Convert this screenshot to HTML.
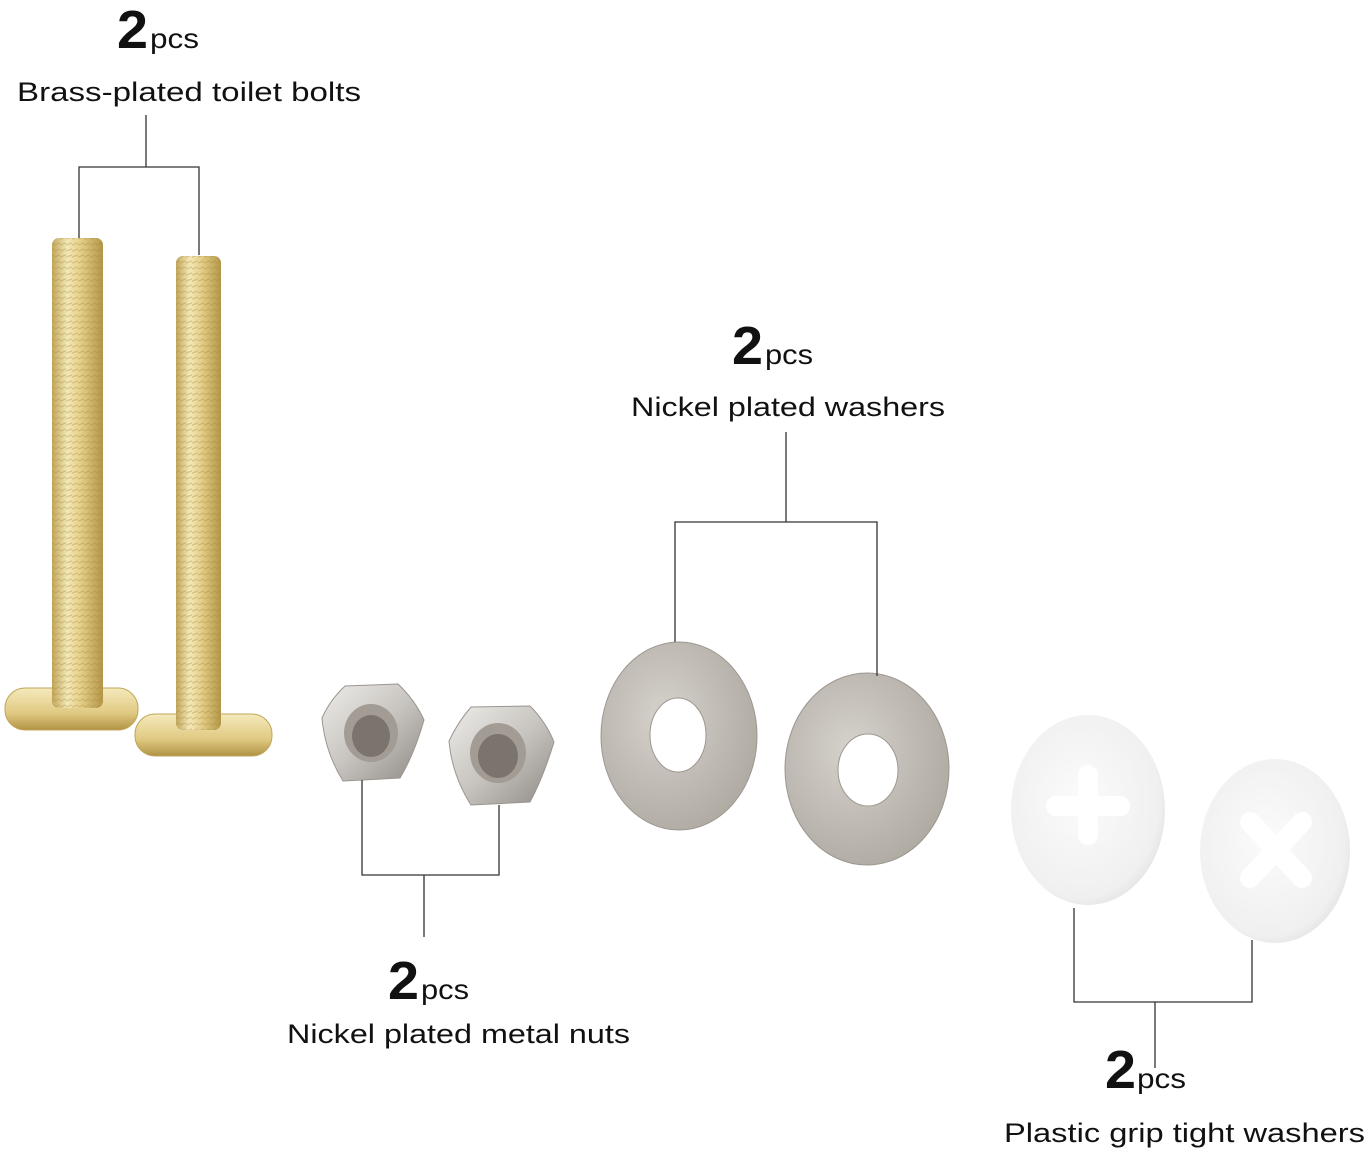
<!DOCTYPE html>
<html><head><meta charset="utf-8"><style>
html,body{margin:0;padding:0;background:#fff;}
svg{display:block;}
text{font-family:"Liberation Sans","DejaVu Sans",sans-serif;fill:#111;}
</style></head><body>
<svg width="1367" height="1151" viewBox="0 0 1367 1151" xmlns="http://www.w3.org/2000/svg">
<defs>
<linearGradient id="gold" x1="0" x2="1" y1="0" y2="0">
<stop offset="0" stop-color="#c2a55a"/><stop offset="0.3" stop-color="#f3e8b6"/><stop offset="0.55" stop-color="#e6d08a"/><stop offset="1" stop-color="#b39647"/>
</linearGradient>
<linearGradient id="goldh" x1="0" x2="0" y1="0" y2="1">
<stop offset="0" stop-color="#f5eabc"/><stop offset="0.6" stop-color="#e0c981"/><stop offset="1" stop-color="#b09245"/>
</linearGradient>
<pattern id="thread" width="6" height="6" patternUnits="userSpaceOnUse">
<line x1="0" y1="5" x2="6" y2="3" stroke="#a08540" stroke-opacity="0.35" stroke-width="1.3"/>
</pattern>
<radialGradient id="nick" cx="0.4" cy="0.4" r="0.7">
<stop offset="0" stop-color="#d6d2cc"/><stop offset="1" stop-color="#aca79f"/>
</radialGradient>
<linearGradient id="nut" x1="0" x2="1" y1="0" y2="1">
<stop offset="0" stop-color="#eeece9"/><stop offset="0.5" stop-color="#c8c5c0"/><stop offset="1" stop-color="#8e8983"/>
</linearGradient>
<radialGradient id="plas" cx="0.45" cy="0.45" r="0.6">
<stop offset="0" stop-color="#fbfbfb"/><stop offset="0.85" stop-color="#f0f0f0"/><stop offset="1" stop-color="#e2e2e2"/>
</radialGradient>
</defs>

<!-- bolts -->
<rect x="5" y="688" width="133" height="42" rx="20" fill="url(#goldh)" stroke="#c0a559"/>
<rect x="52" y="238" width="51" height="470" rx="7" fill="url(#gold)"/>
<rect x="52" y="238" width="51" height="470" rx="7" fill="url(#thread)"/>
<rect x="135" y="714" width="137" height="42" rx="20" fill="url(#goldh)" stroke="#c0a559"/>
<rect x="176" y="256" width="45" height="474" rx="7" fill="url(#gold)"/>
<rect x="176" y="256" width="45" height="474" rx="7" fill="url(#thread)"/>

<!-- nuts -->
<path d="M322,718 Q330,700 345,686 L398,684 Q415,700 424,720 Q414,755 400,778 L343,781 Q325,752 322,718 Z" fill="url(#nut)" stroke="#9a958f"/>
<ellipse cx="371" cy="733" rx="27" ry="29" fill="#a29c95"/>
<ellipse cx="371" cy="736" rx="19" ry="21" fill="#7a746d"/>
<path d="M449,741 Q458,722 471,707 L530,706 Q546,722 554,742 Q543,778 530,802 L471,805 Q452,775 449,741 Z" fill="url(#nut)" stroke="#9a958f"/>
<ellipse cx="498" cy="753" rx="28" ry="30" fill="#a29c95"/>
<ellipse cx="498" cy="756" rx="20" ry="22" fill="#7a746d"/>

<!-- washers -->
<ellipse cx="679" cy="736" rx="78" ry="94" fill="url(#nick)" stroke="#9d978f"/>
<ellipse cx="678" cy="735" rx="28" ry="37" fill="#fff" stroke="#9d978f"/>
<ellipse cx="867" cy="769" rx="82" ry="96" fill="url(#nick)" stroke="#9d978f"/>
<ellipse cx="868" cy="770" rx="30" ry="36" fill="#fff" stroke="#9d978f"/>

<!-- plastic washers -->
<ellipse cx="1088" cy="810" rx="77" ry="95" fill="url(#plas)"/>
<g stroke="#fff" stroke-width="20" stroke-linecap="round">
<line x1="1088" y1="775" x2="1088" y2="835"/><line x1="1056" y1="806" x2="1120" y2="806"/>
<line x1="1250" y1="820" x2="1302" y2="878"/><line x1="1302" y1="820" x2="1250" y2="878"/>
</g>
<ellipse cx="1275" cy="851" rx="75" ry="92" fill="url(#plas)"/>
<g stroke="#fff" stroke-width="20" stroke-linecap="round">
<line x1="1250" y1="822" x2="1302" y2="878"/><line x1="1302" y1="822" x2="1250" y2="878"/>
</g>
<ellipse cx="1088" cy="810" rx="77" ry="95" fill="none"/>
<g stroke="#fff" stroke-width="20" stroke-linecap="round">
<line x1="1088" y1="775" x2="1088" y2="835"/><line x1="1056" y1="806" x2="1120" y2="806"/>
</g>

<!-- brackets -->
<g stroke="#333" stroke-width="1.3" fill="none">
<path d="M146,115 V167 M79,238 V167 H199 V255"/>
<path d="M786,432 V522 M675,642 V522 H877 V676"/>
<path d="M362,780 V875 H499 V805 M424,875 V937"/>
<path d="M1074,908 V1002 H1252 V940 M1155,1002 V1068"/>
</g>

<!-- labels -->
<text x="117" y="48" font-size="54" font-weight="bold" textLength="31" lengthAdjust="spacingAndGlyphs">2</text><text x="150" y="48" font-size="28" textLength="49" lengthAdjust="spacingAndGlyphs">pcs</text>
<text x="17" y="101" font-size="27" textLength="344" lengthAdjust="spacingAndGlyphs">Brass-plated toilet bolts</text>
<text x="732" y="364" font-size="54" font-weight="bold" textLength="31" lengthAdjust="spacingAndGlyphs">2</text><text x="765" y="364" font-size="28" textLength="48" lengthAdjust="spacingAndGlyphs">pcs</text>
<text x="631" y="416" font-size="27" textLength="314" lengthAdjust="spacingAndGlyphs">Nickel plated washers</text>
<text x="388" y="999" font-size="54" font-weight="bold" textLength="31" lengthAdjust="spacingAndGlyphs">2</text><text x="421" y="999" font-size="28" textLength="48" lengthAdjust="spacingAndGlyphs">pcs</text>
<text x="287" y="1043" font-size="27" textLength="343" lengthAdjust="spacingAndGlyphs">Nickel plated metal nuts</text>
<text x="1105" y="1088" font-size="54" font-weight="bold" textLength="31" lengthAdjust="spacingAndGlyphs">2</text><text x="1137" y="1088" font-size="28" textLength="49" lengthAdjust="spacingAndGlyphs">pcs</text>
<text x="1004" y="1142" font-size="27" textLength="361" lengthAdjust="spacingAndGlyphs">Plastic grip tight washers</text>
</svg>
</body></html>
